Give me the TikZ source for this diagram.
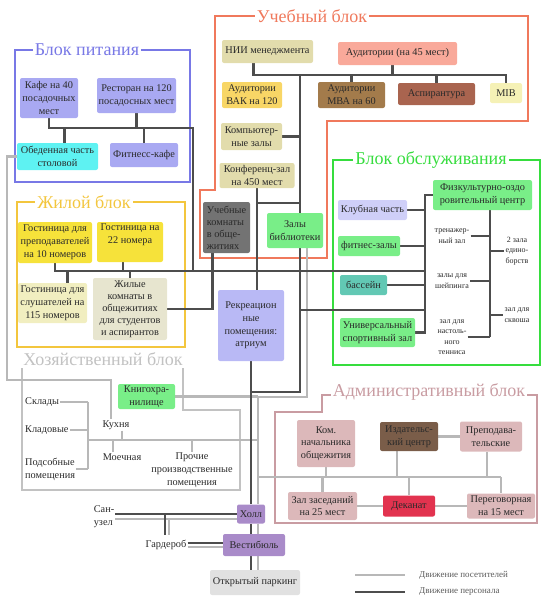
\documentclass[tikz,border=0pt]{standalone}
\usepackage{fontspec}
\setmainfont{Liberation Serif}
\usetikzlibrary{backgrounds}
\definecolor{dkc}{HTML}{4D4D4D}
\definecolor{ltc}{HTML}{B8B8B8}
\definecolor{txt}{HTML}{2A2A2A}
\definecolor{legT}{HTML}{5A5A5A}
\definecolor{pitC}{HTML}{7878E6}
\definecolor{uchC}{HTML}{F0795C}
\definecolor{obsC}{HTML}{36DD3E}
\definecolor{zhC}{HTML}{F3C63E}
\definecolor{hozC}{HTML}{C2C2C2}
\definecolor{admC}{HTML}{C99CA2}
\definecolor{lav}{HTML}{A9A9F2}
\definecolor{cyanF}{HTML}{5EF2F2}
\definecolor{khaki}{HTML}{E2DCAC}
\definecolor{salmon}{HTML}{F9A99A}
\definecolor{gold}{HTML}{F8D666}
\definecolor{brownA}{HTML}{A37B4B}
\definecolor{brownB}{HTML}{A9644F}
\definecolor{paleY}{HTML}{F5F1B6}
\definecolor{grayU}{HTML}{737373}
\definecolor{greenF}{HTML}{79EE88}
\definecolor{clubF}{HTML}{CFCFF8}
\definecolor{tealF}{HTML}{62C8B4}
\definecolor{yelF}{HTML}{F6E23A}
\definecolor{paleY2}{HTML}{F1EEC0}
\definecolor{beigeF}{HTML}{E7E5CF}
\definecolor{rekrF}{HTML}{B9B9F5}
\definecolor{purpF}{HTML}{A98BC9}
\definecolor{parkF}{HTML}{E1E1E1}
\definecolor{pinkF}{HTML}{DCB8BA}
\definecolor{izdF}{HTML}{7A5D49}
\definecolor{dekF}{HTML}{E2334F}
\begin{document}
\begin{tikzpicture}[x=1pt,y=-1pt,
 bx/.style={rectangle, rounded corners=2pt, inner sep=1pt, align=center, font=\fontsize{10.3}{12.8}\selectfont, text=txt},
 sz/.style 2 args={minimum width=#1pt, minimum height=#2pt},
 lbl/.style={inner sep=1pt, align=center, font=\fontsize{10.3}{12.8}\selectfont, text=txt},
 sub/.style={inner sep=1pt, align=center, font=\fontsize{8}{10.5}\selectfont, text=txt},
 ttl/.style={fill=white, inner sep=2pt, font=\fontsize{18}{20}\selectfont},
 frm/.style={line width=2.5pt},
 dk/.style={draw=dkc, line width=2.4pt},
 lt/.style={draw=ltc, line width=2.4pt},
 legtext/.style={font=\fontsize{9}{11}\selectfont, text=legT, anchor=west, inner sep=1pt}
]
\useasboundingbox (0,0) rectangle (542,600);

% ---- Блок питания
\node[bx, fill=lav, sz={58}{40}] (kafe) at (49,98) {Кафе на 40\\посадочных\\мест};
\node[bx, fill=lav, sz={79}{35}] (rest) at (136.5,95.5) {Ресторан на 120\\посадосных мест};
\node[bx, fill=cyanF, sz={81}{27}] (obed) at (57.5,156.5) {Обеденная часть\\столовой};
\node[bx, fill=lav, sz={68}{24}] (fcafe) at (144,155) {Фитнесс-кафе};

% ---- Учебный блок
\node[bx, fill=khaki, sz={91}{23}] (nii) at (267.5,51.5) {НИИ менеджмента};
\node[bx, fill=salmon, sz={119}{23}] (aud) at (397.5,53.5) {Аудитории (на 45 мест)};
\node[bx, fill=gold, sz={60}{26}] (vak) at (252,95) {Аудитории\\ВАК на 120};
\node[bx, fill=brownA, sz={67}{26}] (mba) at (351.5,95) {Аудитории\\МВА на 60};
\node[bx, fill=brownB, sz={77}{22}] (asp) at (436.5,94) {Аспирантура};
\node[bx, fill=paleY, sz={32}{20}] (mib) at (506,93) {MIB};
\node[bx, fill=khaki, sz={61}{27}] (comp) at (251.5,136.5) {Компьютер-\\ные залы};
\node[bx, fill=khaki, sz={75}{25}] (conf) at (257,175.5) {Конференц-зал\\на 450 мест};
\node[bx, fill=grayU, sz={47}{51}, align=left, font=\fontsize{10.3}{12}\selectfont] (ucheb) at (226.5,227.5) {Учебные\\комнаты\\в обще-\\житиях};
\node[bx, fill=greenF, sz={56}{35}] (lib) at (295,230.5) {Залы\\библиотеки};

% ---- Блок обслуживания
\node[bx, fill=greenF, sz={99}{30}] (fiz) at (482.5,195) {Физкультурно-оздо\\ровительный центр};
\node[bx, fill=clubF, sz={69}{20}] (club) at (372.5,210) {Клубная часть};
\node[bx, fill=greenF, sz={62}{20}] (fitz) at (369,246) {фитнес-залы};
\node[bx, fill=tealF, sz={47}{20}] (bass) at (363.5,285) {бассейн};
\node[bx, fill=greenF, sz={75}{29}] (univ) at (377.5,332.5) {Универсальный\\спортивный зал};
\node[sub] (tren) at (452,236) {тренажер-\\ный зал};
\node[sub] (shap) at (452,281) {залы для\\шейпинга};
\node[sub] (tenn) at (452,337) {зал для\\настоль-\\ного\\тенниса};
\node[sub] (edin) at (517,251) {2 зала\\едино-\\борств};
\node[sub] (skv) at (517,315) {зал для\\сквоша};

% ---- Жилой блок
\node[bx, fill=yelF, sz={74}{41}] (gp) at (55,242.5) {Гостиница для\\преподавателей\\на 10 номеров};
\node[bx, fill=yelF, sz={66}{40}] (g22) at (130,242) {Гостиница на\\22 номера\\\strut};
\node[bx, fill=paleY2, sz={69}{40}] (gs) at (52.5,303) {Гостиница для\\слушателей на\\115 номеров};
\node[bx, fill=beigeF, sz={74}{62}, font=\fontsize{10.3}{12}\selectfont] (zh) at (130,309) {Жилые\\комнаты в\\общежитиях\\для студентов\\и аспирантов};

% ---- центр
\node[bx, fill=rekrF, sz={66}{71}] (rekr) at (251,325.5) {Рекреацион\\ные\\помещения:\\атриум};
\node[bx, fill=greenF, sz={57}{25}] (kniga) at (146.5,396.5) {Книгохра-\\нилище};

% ---- Хозяйственный блок
\node[lbl, anchor=west] (sklad) at (24,402) {Склады};
\node[lbl, anchor=west] (klad) at (24,430) {Кладовые};
\node[lbl, anchor=west, align=left] (podsob) at (24,469) {Подсобные\\помещения};
\node[lbl] (kuh) at (116,425) {Кухня};
\node[lbl] (moech) at (122,457) {Моечная};
\node[lbl] (proch) at (192,470) {Прочие\\производственные\\помещения};

% ---- вход
\node[bx, fill=purpF, sz={28}{19}] (holl) at (251,514) {Холл};
\node[bx, fill=purpF, sz={62}{22}] (vest) at (254,545) {Вестибюль};
\node[bx, fill=parkF, sz={90}{25}] (park) at (255,582.5) {Открытый паркинг};
\node[lbl, align=left] (sanuz) at (104,517) {Сан-\\узел};
\node[lbl] (garder) at (166,545) {Гардероб};

% ---- Административный блок
\node[bx, fill=pinkF, sz={58}{47}] (kom) at (326,443.5) {Ком.\\начальника\\общежития};
\node[bx, fill=izdF, sz={58}{29}] (izd) at (409,436.5) {Издательс-\\кий центр};
\node[bx, fill=pinkF, sz={62}{30}] (prep) at (491,436.5) {Преподава-\\тельские};
\node[bx, fill=pinkF, sz={69}{28}] (zal) at (322.5,506) {Зал заседаний\\на 25 мест};
\node[bx, fill=dekF, sz={52}{21}] (dek) at (409,506) {Деканат};
\node[bx, fill=pinkF, sz={68}{25}] (pereg) at (501,506) {Переговорная\\на 15 мест};

% ---- legend
\coordinate (lgA1) at (355,575);
\coordinate (lgA2) at (405,575);
\coordinate (lgB1) at (355,592);
\coordinate (lgB2) at (405,592);
\node[legtext] (legA) at (418,575) {Движение посетителей};
\node[legtext] (legB) at (418,592) {Движение персонала};

% ---- junctions
\coordinate (pJ) at (193,128);
\coordinate (mJ) at (425,271);
\coordinate (uBus) at (0,75);
\coordinate (uJ) at (300,75);
\coordinate (sp1) at (300,392);
\coordinate (cB) at (300,203);
\coordinate (l310) at (425,310);
\coordinate (brT) at (425,195);
\coordinate (fbT) at (490,210);
\coordinate (fbB) at (490,337);
\coordinate (g1) at (7,380);
\coordinate (kx) at (88,440);
\coordinate (kB) at (258,440);
\coordinate (gs1) at (307,397);
\coordinate (gs2) at (258,397);
\coordinate (aB) at (0,477);
\coordinate (gt) at (165,535);
\coordinate (szD) at (sanuz.east |- holl.west);
\coordinate (gtA) at (gt |- holl.west);

\begin{pgfonlayer}{background}
% frames
\draw[frm, draw=pitC] (15,50) rectangle (190,182);
\draw[frm, draw=uchC] (215,16) -- (215,190) -- (200,190) -- (200,258) -- (327,258) -- (327,121) -- (528,121) -- (528,16) -- cycle;
\draw[frm, draw=obsC] (333,160) rectangle (540,365);
\draw[frm, draw=zhC] (17,202) rectangle (185,347);
\draw[frm, draw=hozC] (22,362) -- (22,490) -- (240,490) -- (240,410) -- (183,410) -- (183,362);
\draw[frm, draw=admC] (322,395) -- (322,412) -- (275,412) -- (275,523) -- (537,523) -- (537,395) -- cycle;

% visitor lines (light)
\draw[lt] (obed.west) -| (g1) -| ([xshift=-5pt]kuh.north);
\draw[lt] (sklad.east) -- (sklad.east -| kx);
\draw[lt] (klad.east) -- (klad.east -| kx);
\draw[lt] (podsob.east) -- (podsob.east -| kx);
\draw[lt] (sklad.east -| kx) -- (podsob.east -| kx);
\draw[lt] (kx) -- (kB);
\draw[lt] ([xshift=6pt]kuh.south) -- ([xshift=6pt]kuh.south |- kB);
\draw[lt] ([xshift=-9pt]moech.north) -- ([xshift=-9pt]moech.north |- kB);
\draw[lt] (proch.north) -- (proch.north |- kB);
\draw[lt] (lib.south -| gs1) -- (gs1) -- (gs2) -- (gs2 |- holl.north);
\draw[lt] (kniga.east) -- (kniga.east -| gs2);
\draw[lt] (gs2 |- holl.south) -- (gs2 |- vest.north);
\draw[lt] (gs2 |- vest.south) -- (gs2 |- park.north);
\draw[lt] ([yshift=-5pt]szD) -- ([yshift=-5pt]holl.west);
\draw[lt] ([xshift=4pt,yshift=-5pt]gtA) -- ([xshift=4pt]gt);
\draw[lt] ([yshift=-2pt]garder.east) -- ([yshift=-2pt]vest.west);
\draw[lt] (gs2 |- aB) -- (pereg.north |- aB);
\draw[lt] (kom.south) -- (kom.south |- aB);
\draw[lt] ([xshift=-12pt]izd.south) -- ([xshift=-12pt]izd.south |- aB);
\draw[lt] ([xshift=-4pt]prep.south) -- ([xshift=-4pt]prep.south |- aB);
\draw[lt] (zal.north |- aB) -- (zal.north);
\draw[lt] (dek.north |- aB) -- (dek.north);
\draw[lt] (pereg.north |- aB) -- (pereg.north);
\draw[lt] (izd.east) -- (prep.west);
\draw[lt] (zal.east) -- (dek.west);
\draw[lt] (dek.east) -- (pereg.west);
\draw[lt] (lgA1) -- (lgA2);

% staff lines (dark)
\draw[dk] (kafe.south) |- (pJ) -- (pJ |- mJ);
\draw[dk] (rest.south) -- (rest.south |- pJ);
\draw[dk] ([xshift=7pt]obed.north) -- ([xshift=7pt]obed.north |- pJ);
\draw[dk] (fcafe.north) -- (fcafe.north |- pJ);
\draw[dk] (gp.south) |- (mJ);
\draw[dk] ([xshift=-7pt]g22.south) -- ([xshift=-7pt]g22.south |- mJ);
\draw[dk] ([xshift=15pt]gs.north) -- ([xshift=15pt]gs.north |- mJ);
\draw[dk] (zh.north) -- (zh.north |- mJ);
\draw[dk] ([xshift=-14pt]ucheb.south) |- (zh.east);
\draw[dk] ([xshift=-14pt]nii.south) |- (mib.north |- uBus) -- (mib.north);
\draw[dk] ([xshift=-5pt]aud.south) -- ([xshift=-5pt]aud.south |- uBus);
\draw[dk] (mba.north |- uBus) -- (mba.north);
\draw[dk] (asp.north |- uBus) -- (asp.north);
\draw[dk] (uJ) -- (sp1) -- (rekr.south |- sp1);
\draw[dk] (comp.east) -- (comp.east -| uJ);
\draw[dk] (conf.south) -- (conf.south |- rekr.north);
\draw[dk] (conf.south |- cB) -- (cB);
\draw[dk] (uJ |- l310) -- (l310);
\draw[dk] (fiz.west) -| (univ.east -| brT) -- (univ.east);
\draw[dk] (club.east) -- (club.east -| brT);
\draw[dk] (fitz.east) -- (fitz.east -| brT);
\draw[dk] (bass.east) -- (bass.east -| brT);
\draw[dk] (fbT) -- (fbB);
\draw[dk] (tren.east) -- (tren.east -| fbT);
\draw[dk] (shap.east) -- (shap.east -| fbT);
\draw[dk] (tenn.east) -- (tenn.east -| fbT);
\draw[dk] (edin.west -| fbT) -- (edin.west);
\draw[dk] (skv.west -| fbT) -- (skv.west);
\draw[dk] (rekr.south) -- (holl.north -| rekr.south);
\draw[dk] (holl.south) -- (vest.north -| holl.south);
\draw[dk] (vest.south -| holl.south) -- (park.north -| holl.south);
\draw[dk] (szD) -- (holl.west);
\draw[dk] (gtA) -- (gt);
\draw[dk] ([yshift=2pt]garder.east) -- ([yshift=2pt]vest.west);
\draw[dk] (lgB1) -- (lgB2);
\end{pgfonlayer}

% ---- titles
\node[ttl, text=pitC] (tPit) at (87,50) {Блок питания};
\node[ttl, text=uchC] (tUch) at (312,16) {Учебный блок};
\node[ttl, text=obsC] (tObs) at (431,160) {Блок обслуживания};
\node[ttl, text=zhC] (tZh) at (84,202) {Жилой блок};
\node[ttl, text=hozC] (tHoz) at (103,359) {Хозяйственный блок};
\node[ttl, text=admC] (tAdm) at (429,392) {Административный блок};
\end{tikzpicture}
\end{document}
